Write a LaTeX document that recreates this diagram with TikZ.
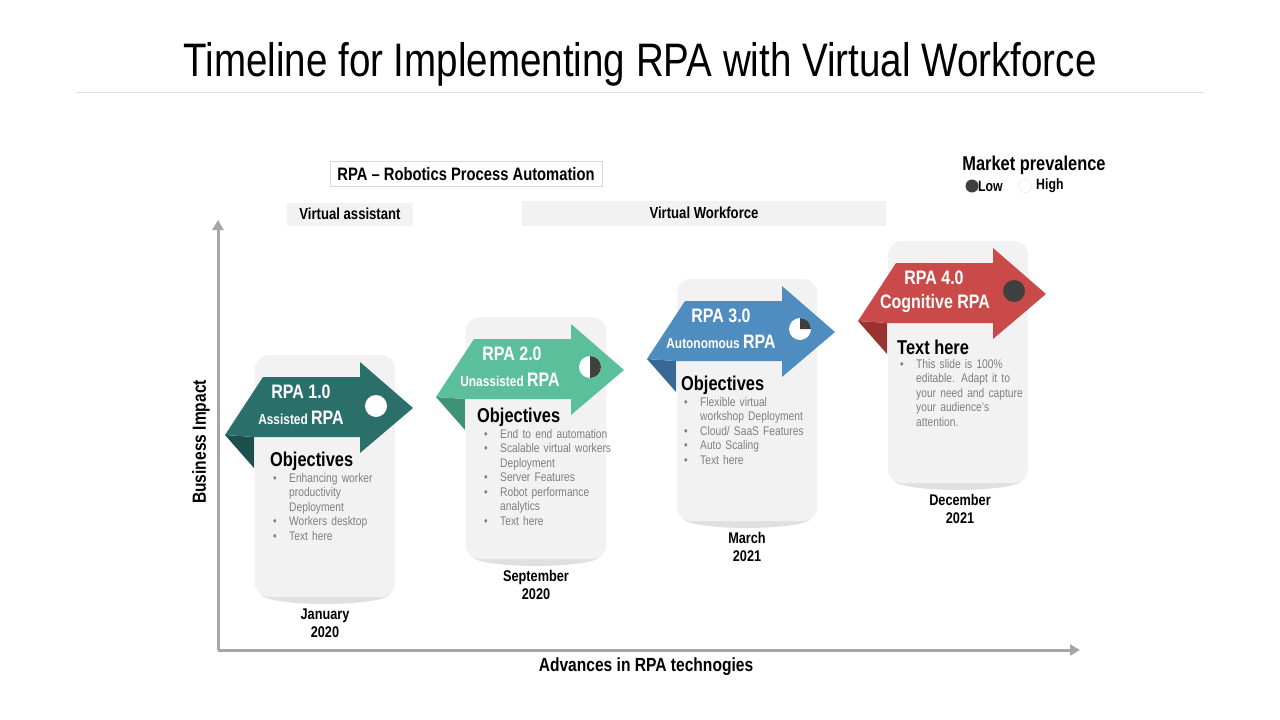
\documentclass[tikz,border=0pt]{standalone}
\usepackage{fontspec}
\setmainfont{Liberation Sans}
\newfontfamily\cond[FakeStretch=0.82,Ligatures=TeX]{Liberation Sans}
\usetikzlibrary{arrows.meta}
\hyphenpenalty=10000
\definecolor{cardbg}{HTML}{F2F2F2}
\definecolor{bodytxt}{HTML}{7F7F7F}
\definecolor{axisc}{HTML}{A6A6A6}
\definecolor{teal}{HTML}{2B6F6B}\definecolor{tealD}{HTML}{1D4F4C}
\definecolor{mint}{HTML}{5CBF9C}\definecolor{mintD}{HTML}{3E9377}
\definecolor{steel}{HTML}{4F8CBF}\definecolor{steelD}{HTML}{386994}
\definecolor{brick}{HTML}{C94A48}\definecolor{brickD}{HTML}{9A3230}
\definecolor{dot}{HTML}{404040}
\tikzset{
 card/.style={fill=cardbg,draw=none,rounded corners=14pt},
 hd/.style={font=\cond\bfseries\fontsize{19.5}{21}\selectfont,text=white},
 sub/.style={font=\cond\bfseries\fontsize{14.5}{16}\selectfont,text=white},
 obj/.style={font=\cond\bfseries\fontsize{20}{22}\selectfont,anchor=west,inner sep=0},
 bl/.style={font=\cond\fontsize{12.5}{14.5}\selectfont,text=bodytxt,anchor=north west,inner sep=0,align=left,text width=#1},
 date/.style={font=\cond\bfseries\fontsize{15.5}{18}\selectfont,align=center},
 lbl/.style={font=\cond\bfseries\fontsize{19}{21}\selectfont},
}
\newcommand{\bul}{\makebox[16pt][l]{\textbullet}}
\newcommand{\stage}[2]{%
 \fill[black,opacity=0.12] (325,594) ellipse (64 and 10);
 \fill[card] (255,355) rectangle (395,597);
 \fill[#2] (225,435) -- (254,437) -- (254,468) -- cycle;
 \fill[#1] (263,377) -- (360,377) -- (360,362) -- (413,408) -- (360,453) -- (360,437) -- (254,437) -- (225,435) -- cycle;
}
\begin{document}
\begin{tikzpicture}[x=1pt,y=-1pt]
\useasboundingbox (0,0) rectangle (1280,720);
\fill[white] (0,0) rectangle (1280,720);
\node[font=\cond\fontsize{47}{50}\selectfont] (title) at (640,64) {Timeline for Implementing RPA with Virtual Workforce};
\draw[black!12] (75,92) -- (1205,92);
% top labels
\node[draw=black!15,font=\cond\bfseries\fontsize{18}{20}\selectfont,inner sep=0,minimum width=272pt,minimum height=25pt] (rpa) at (466,174) {RPA – Robotics Process Automation};
\node[fill=cardbg,font=\cond\bfseries\fontsize{16}{18}\selectfont,minimum width=126pt,minimum height=23pt] (va) at (350,214) {Virtual assistant};
\node[fill=cardbg,font=\cond\bfseries\fontsize{16}{18}\selectfont,minimum width=364pt,minimum height=25pt] (vw) at (704,213) {Virtual Workforce};
\node[font=\cond\bfseries\fontsize{20}{22}\selectfont] (mp) at (1034,165) {Market prevalence};
\fill[dot] (972,186) circle (6.5);
\node[font=\cond\bfseries\fontsize{15}{17}\selectfont,anchor=west,inner sep=0] (low) at (978,186) {Low};
\fill[white,draw=black!10] (1025,186) circle (6.5);
\node[font=\cond\bfseries\fontsize{15}{17}\selectfont,anchor=west,inner sep=0] (high) at (1036,186) {High};
% axes
\coordinate (o) at (218,650); \coordinate (yt) at (218,220); \coordinate (xt) at (1080,650);
\draw[axisc,line width=3pt,-{Triangle[length=10pt,width=11pt]}] (o) -- (yt);
\draw[axisc,line width=3pt,-{Triangle[length=10pt,width=11pt]}] (o) -- (xt);
\node[lbl,rotate=90] (yl) at (201,442) {Business Impact};
\node[lbl] (xl) at (646,667) {Advances in RPA technogies};
% stage 1
\stage{teal}{tealD}
\node[hd] (h1) at (301,392) {RPA 1.0};
\node[sub] (s1) at (301,418) {Assisted {\fontsize{19.5}{21}\selectfont RPA}};
\fill[white] (376,406) circle (11);
\node[obj] (o1) at (270,461) {Objectives};
\node[bl=118pt] (b1) at (273,473) {\bul Enhancing worker\\\hspace*{16pt}productivity\\\hspace*{16pt}Deployment\\\bul Workers desktop\\\bul Text here};
\node[date] (d1) at (325,623) {January\\2020};
% stage 2
\begin{scope}[shift={(211,-38)}]
\stage{mint}{mintD}
\node[hd] (h2) at (301,392) {RPA 2.0};
\node[sub] (s2) at (299,418) {Unassisted {\fontsize{19.5}{21}\selectfont RPA}};
\fill[white] (379,405) circle (11);
\fill[dot] (379,394) arc (-90:90:11) -- cycle;
\node[obj] (o2) at (266,455) {Objectives};
\node[bl=130pt] (b2) at (273,467) {\bul End to end automation\\\bul Scalable virtual workers\\\hspace*{16pt}Deployment\\\bul Server Features\\\bul Robot performance\\\hspace*{16pt}analytics\\\bul Text here};
\node[date] (d2) at (325,623) {September\\2020};
\end{scope}
% stage 3
\begin{scope}[shift={(422,-76)}]
\stage{steel}{steelD}
\node[hd] (h3) at (299,392) {RPA 3.0};
\node[sub] (s3) at (299,418) {Autonomous {\fontsize{19.5}{21}\selectfont RPA}};
\fill[white] (378,405) circle (11);
\fill[dot] (378,405) -- (378,394) arc (-90:0:11) -- cycle;
\node[obj] (o3) at (259,461) {Objectives};
\node[bl=130pt] (b3) at (262,473) {\bul Flexible virtual\\\hspace*{16pt}workshop Deployment\\\bul Cloud/ SaaS Features\\\bul Auto Scaling\\\bul Text here};
\node[date] (d3) at (325,623) {March\\2021};
\end{scope}
% stage 4
\begin{scope}[shift={(633,-114)}]
\stage{brick}{brickD}
\node[hd] (h4) at (301,392) {RPA 4.0};
\node[hd] (s4) at (302,417) {Cognitive RPA};
\fill[dot] (381,405) circle (11);
\node[obj] (o4) at (264,461) {Text here};
\node[bl=140pt] (b4) at (267,473) {\bul This slide is 100\%\\\hspace*{16pt}editable. Adapt it to\\\hspace*{16pt}your need and capture\\\hspace*{16pt}your audience's\\\hspace*{16pt}attention.};
\node[date] (d4) at (327,623) {December\\2021};
\end{scope}
\end{tikzpicture}
\end{document}
